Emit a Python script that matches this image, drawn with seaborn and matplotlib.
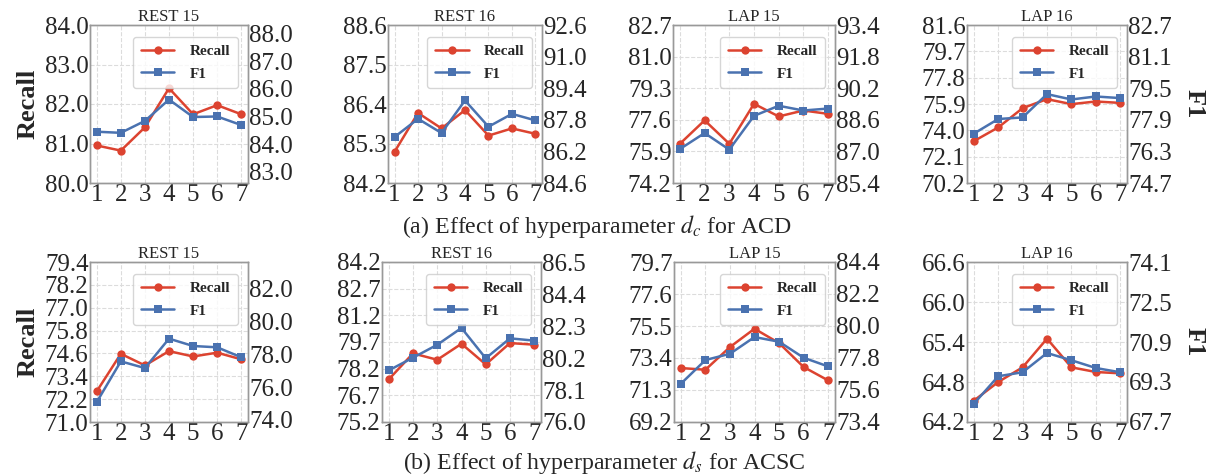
import numpy as np
import seaborn as sns
from matplotlib import pyplot as plt
from matplotlib.ticker import FormatStrFormatter

steps = [1, 2, 3, 4, 5, 6, 7]
titles = ['REST 15', 'REST 16', 'LAP 15', 'LAP 16']

# (a) d_c for ACD
acd_recall = [[80.95, 80.82, 81.41, 82.40, 81.74, 81.97, 81.74],
              [85.07, 86.15, 85.72, 86.23, 85.52, 85.72, 85.57],
              [76.31, 77.57, 76.31, 78.46, 77.78, 78.10, 77.92],
              [73.22, 74.21, 75.60, 76.25, 75.89, 76.08, 75.98]]
acd_f1 = [[84.45, 84.41, 84.84, 85.61, 84.98, 85.00, 84.69],
          [86.93, 87.85, 87.13, 88.78, 87.45, 88.10, 87.77],
          [87.12, 87.93, 87.09, 88.80, 89.31, 89.07, 89.17],
          [77.20, 77.94, 78.02, 79.20, 78.93, 79.08, 79.00]]

# (b) d_s for ACSC
acsc_recall = [[72.61, 74.58, 73.97, 74.72, 74.44, 74.64, 74.29],
               [77.60, 79.06, 78.70, 79.60, 78.44, 79.64, 79.55],
               [72.74, 72.63, 74.12, 75.32, 74.38, 72.81, 71.93],
               [64.52, 64.80, 65.02, 65.45, 65.02, 64.95, 64.93]]
acsc_f1 = [[75.08, 77.57, 77.16, 78.96, 78.51, 78.43, 77.82],
           [79.39, 80.22, 81.07, 82.17, 80.18, 81.49, 81.34],
           [76.03, 77.66, 78.09, 79.24, 78.92, 77.82, 77.22],
           [68.43, 69.53, 69.69, 70.46, 70.17, 69.86, 69.69]]

# axis ranges: (lo, hi, tick step)
acd_left = [(80.0, 84.0, 1.0), (84.2, 88.6, 1.1), (74.2, 82.7, 1.7), (70.2, 81.6, 1.9)]
acd_right = [(82.6, 88.3, 83.0, 88.0, 1.0), (84.6, 92.6, 84.6, 92.6, 1.6),
             (85.4, 93.4, 85.4, 93.4, 1.6), (74.7, 82.7, 74.7, 82.7, 1.6)]
acsc_left = [(71.0, 79.4, 1.2), (75.2, 84.2, 1.5), (69.2, 79.7, 2.1), (64.2, 66.6, 0.6)]
acsc_right = [(73.86, 83.65, 74.0, 82.0, 2.0), (76.0, 86.5, 76.0, 86.5, 2.1),
              (73.4, 84.4, 73.4, 84.4, 2.2), (67.7, 74.1, 67.7, 74.1, 1.6)]

captions = [r'(a) Effect of hyperparameter $d_c$ for ACD',
            r'(b) Effect of hyperparameter $d_s$ for ACSC']

RED = '#dc4330'
BLUE = '#4a72b0'

sns.set_theme(style='whitegrid')
plt.rcParams['font.family'] = ['Liberation Serif', 'DejaVu Serif']
plt.rcParams['mathtext.fontset'] = 'stix'

W, H = 1212, 475
fig = plt.figure(figsize=(W / 100, H / 100), dpi=100)

# pixel boxes (left, right, top, bottom)
boxes = [[(90, 248, 25, 183), (388, 542, 25, 183), (673, 835, 25, 183), (967, 1127, 25, 183)],
         [(90, 248, 262, 422), (382, 541, 262, 422), (674, 835, 262, 422), (967, 1127, 262, 422)]]

rows = [(acd_recall, acd_f1, acd_left, acd_right), (acsc_recall, acsc_f1, acsc_left, acsc_right)]

for r, (recall, f1, lefts, rights) in enumerate(rows):
    for i in range(4):
        l, rr, t, b = boxes[r][i]
        ax = fig.add_axes([l / W, 1 - b / H, (rr - l) / W, (b - t) / H])
        sns.lineplot(x=steps, y=recall[i], ax=ax, color=RED, marker='o', markersize=6,
                     markeredgewidth=0, linewidth=1.8, label='Recall', legend=False)
        ax2 = ax.twinx()
        sns.lineplot(x=steps, y=f1[i], ax=ax2, color=BLUE, marker='s', markersize=6,
                     markeredgewidth=0, linewidth=1.8, label='F1', legend=False)

        lo, hi, st = lefts[i]
        ax.set_ylim(lo, hi)
        ax.set_yticks(np.arange(lo, hi + st / 2, st))
        rlo, rhi, t0, t1, rst = rights[i]
        ax2.set_ylim(rlo, rhi)
        ax2.set_yticks(np.arange(t0, t1 + rst / 2, rst))
        for a in (ax, ax2):
            a.yaxis.set_major_formatter(FormatStrFormatter('%.1f'))
            a.tick_params(labelsize=18, pad=1, length=0)
        ax.set_xlim(0.72, 7.28)
        ax.set_xticks(steps)
        ax.grid(True, linestyle='--', color='#dcdcdc', linewidth=0.8)
        ax2.grid(False)
        for sp in list(ax.spines.values()) + list(ax2.spines.values()):
            sp.set_color('#999999')
            sp.set_linewidth(1.0)
        ax.set_title(titles[i], fontsize=12, pad=2)

        h1, l1 = ax.get_legend_handles_labels()
        h2, l2 = ax2.get_legend_handles_labels()
        ax2.legend(h1 + h2, l1 + l2, loc='upper right', bbox_to_anchor=(0.985, 0.975),
                   prop={'weight': 'bold', 'size': 11}, frameon=True, handlelength=2.2,
                   borderpad=0.5, labelspacing=0.6, handletextpad=1.0, fancybox=True)

        if i == 0:
            ax.set_ylabel('Recall', fontsize=19, fontweight='bold', labelpad=4)
        if i == 3:
            ax2.set_ylabel('F1', fontsize=19, fontweight='bold', rotation=270, labelpad=24)

    cx = 597 if r == 0 else 604
    cy = 227 if r == 0 else 462
    fig.text(cx / W, 1 - cy / H, captions[r], ha='center', va='center', fontsize=17.2)

fig.savefig('out.png', dpi=100, facecolor='white')
